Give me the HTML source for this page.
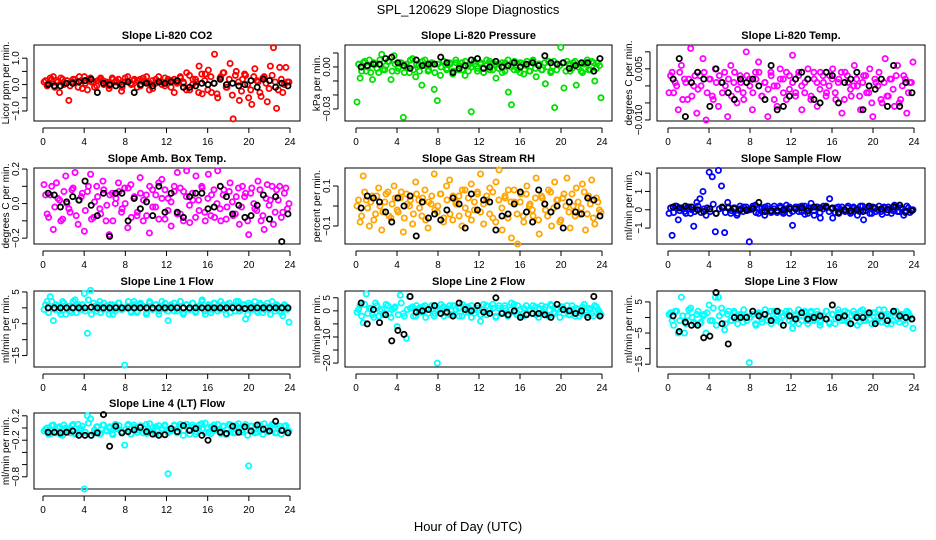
<!DOCTYPE html>
<html><head><meta charset="utf-8"><style>
html,body{margin:0;padding:0;background:#fff;}
svg{display:block;font-family:"Liberation Sans",sans-serif;}
</style></head><body>
<svg id="chart" width="936" height="540" viewBox="0 0 936 540">
<text x="468" y="14" text-anchor="middle" font-size="13">SPL_120629  Slope Diagnostics</text>
<text x="468" y="531" text-anchor="middle" font-size="13">Hour of Day (UTC)</text>
</svg>
<script>
// ---- data ----
const xTicks = [0,4,8,12,16,20,24];
const c1 = [0.1,-0.05,0.25,0.3,0.15,-0.3,0.2,0.05,-0.6,0.1,0.2,-0.1,0.15,0.3,-0.2,0.25,0.1,-0.05,0.2,0.15,0.05,-0.15,0.25,0.1,0.2,-0.25,0.1,0.3,0.05,0.15,-0.1,0.2,0.25,0.1,-0.2,0.15,0.05,0.3,0.1,-0.05,0.2,0.15,-0.3,0.1,0.25,0.05,0.45,-0.2,0.2,0.1,0.7,-0.35,0.4,0.55,-0.3,1.15,-0.5,0.3,0.45,-0.1,0.8,-1.3,0.5,-0.6,0.2,0.35,-0.5,-0.75,0.6,0.1,-0.45,0.3,-0.65,0.7,1.4,-0.9,0.65,-0.3,0.65,0.1];
const d1 = [0.15,0.05,0.2,-0.1,0.1,0.25,0.0,0.15,-0.05,0.2,0.1,0.3,-0.15,0.05,0.2,0.1,-0.1,0.15,0.25,0.0,0.1,-0.05,0.2,0.15,0.05,-0.1,0.25,0.1,0.0,0.2,0.15,-0.05,0.1,0.3,0.05,-0.15,0.2,0.1,0.0,0.25,0.15,-0.1,0.2,0.05,0.3,0.1,-0.2,0.35,0.0,0.2,-0.3,0.4,0.15,-0.2,0.3,0.05,-0.35,0.25,0.45,-0.1,0.2,-0.4,0.35,0.1,-0.25,0.4,0.0,-0.2,0.3,0.15,-0.3,0.25,0.05,-0.15,0.35,0.1,-0.2,0.2,0.0,0.1];
const k1 = [0.0,-0.05,-0.05,0.05,0.05,0.1,0.15,0.2,-0.3,0.05,0.0,-0.05,0.0,0.1,-0.3,0.0,0.05,-0.05,0.1,0.05,0.1,0.15,-0.1,-0.1,-0.05,0.05,0.0,0.05,0.2,0.0,0.05,-0.05,0.0,0.15,-0.1,0.2,0.15,-0.1,0.05,-0.05];
const c2 = [-0.025,-0.008,0.003,-0.003,0.005,-0.009,0.002,-0.004,0.009,-0.002,0.004,-0.009,0.008,-0.003,0.003,-0.036,0.002,-0.004,0.006,-0.007,0.001,-0.013,0.005,-0.003,0.002,-0.016,-0.024,-0.006,0.004,-0.002,0.003,-0.005,0.005,-0.002,0.003,-0.006,0.001,-0.032,0.004,-0.003,0.002,-0.004,0.005,-0.002,0.003,-0.008,0.002,-0.004,0.003,-0.018,-0.027,0.004,-0.002,0.003,-0.005,0.004,-0.003,0.005,-0.007,0.002,-0.002,-0.012,0.004,-0.003,-0.029,0.002,0.014,-0.015,0.004,-0.003,0.003,-0.013,0.002,-0.004,0.003,-0.002,0.004,-0.010,0.003,-0.022];
const d2 = [0.002,-0.003,0.004,0.0,-0.004,0.003,-0.001,0.005,-0.002,0.001,0.004,-0.003,0.002,-0.001,0.003,-0.004,0.0,0.005,-0.002,0.002,-0.003,0.004,0.001,-0.002,0.003,-0.004,0.002,0.0,0.004,-0.001,0.002,-0.003,0.003,0.001,-0.002,0.004,-0.003,0.0,0.002,-0.001,0.003,-0.004,0.001,0.004,-0.002,0.002,-0.001,0.003,-0.003,0.005,0.0,-0.002,0.003,-0.004,0.002,0.001,-0.003,0.004,-0.001,0.002,-0.002,0.003,0.0,-0.004,0.004,-0.002,0.001,0.003,-0.003,0.002,-0.001,0.004,0.0,-0.003,0.002,0.005,-0.002,0.003,-0.001,0.001];
const k2 = [0.0,0.001,0.002,0.002,0.006,0.007,0.003,0.001,-0.001,0.005,0.001,0.002,0.002,0.007,0.003,-0.004,-0.001,0.001,0.005,0.006,-0.001,0.0,0.004,0.0,0.001,0.003,0.0,0.002,0.003,0.001,0.008,0.003,0.002,0.003,-0.001,0.001,0.003,0.003,-0.003,0.006];
const c3 = [-0.002,0.004,0.001,-0.007,0.006,0.002,-0.004,0.011,0.0,-0.008,0.003,0.008,-0.010,0.002,-0.003,0.005,-0.006,0.001,0.004,-0.009,0.006,0.001,-0.005,0.003,-0.002,0.010,0.002,-0.007,0.004,0.007,-0.003,0.001,-0.009,0.004,0.0,-0.006,0.005,0.002,-0.004,0.003,0.009,-0.002,0.004,-0.007,0.001,0.005,-0.003,0.002,-0.006,0.004,0.001,-0.002,0.003,0.005,-0.004,0.002,-0.008,0.004,0.001,-0.003,0.006,0.0,-0.007,0.003,-0.002,0.005,-0.009,0.001,0.004,-0.005,0.008,-0.003,0.002,-0.006,0.006,-0.004,0.003,-0.008,0.001,0.007];
const d3 = [0.003,-0.002,0.0,0.004,-0.004,0.001,0.002,-0.003,0.003,-0.001,0.0,0.004,-0.002,0.002,-0.004,0.001,0.003,-0.002,0.0,0.002,-0.003,0.004,-0.001,0.001,-0.004,0.003,0.0,-0.002,0.002,0.004,-0.003,0.001,-0.001,0.003,-0.004,0.0,0.002,-0.002,0.004,-0.001,0.001,-0.003,0.003,0.0,-0.002,0.002,-0.004,0.004,0.001,-0.001,0.003,-0.003,0.0,0.002,-0.002,0.001,0.004,-0.004,0.003,-0.001,0.0,0.002,-0.003,0.001,0.003,-0.002,-0.005,0.002,0.0,-0.004,0.001,-0.003,0.002,-0.001,0.003,-0.005,0.0,0.002,-0.002,0.001];
const k3 = [0.002,0.008,-0.009,0.001,0.004,0.002,-0.006,0.005,0.001,-0.002,-0.004,0.002,0.001,0.002,0.0,-0.004,0.006,-0.007,-0.006,-0.003,0.002,0.004,0.002,-0.004,-0.005,0.004,0.003,-0.005,0.001,0.002,0.004,-0.007,0.0,-0.001,0.002,-0.006,0.006,-0.006,0.001,-0.002];
const c4 = [0.11,-0.06,0.05,-0.15,0.12,0.02,-0.09,0.16,-0.03,0.08,0.18,-0.12,0.04,-0.16,0.07,0.17,-0.08,0.1,-0.03,0.13,-0.1,-0.18,0.06,0.0,0.12,-0.05,0.09,-0.14,0.11,0.03,-0.07,0.15,-0.1,0.05,-0.17,0.08,-0.02,0.12,0.14,-0.09,0.03,-0.13,0.1,0.18,-0.06,0.07,0.19,-0.11,0.02,0.16,-0.04,0.09,-0.1,0.17,0.05,-0.08,0.19,-0.1,0.08,-0.02,0.12,-0.07,0.04,-0.12,0.1,0.06,-0.18,0.09,-0.03,0.13,-0.1,-0.15,0.11,0.02,-0.12,0.08,0.1,-0.05,0.09,0.0];
const d4 = [0.05,-0.08,0.1,-0.02,0.03,-0.1,0.07,0.0,-0.05,0.09,-0.07,0.02,0.06,-0.04,0.1,-0.09,0.01,0.04,-0.06,0.08,-0.01,0.05,-0.1,0.03,0.07,-0.03,0.0,0.09,-0.08,0.04,-0.05,0.06,0.02,-0.07,0.1,-0.02,0.05,-0.09,0.03,0.08,-0.04,0.01,0.07,-0.06,0.09,-0.1,0.04,-0.01,0.06,-0.08,0.02,0.1,-0.05,0.03,-0.07,0.08,0.0,-0.03,0.05,-0.09,0.07,0.01,-0.06,0.09,-0.02,0.04,-0.1,0.06,0.0,-0.04,0.08,-0.07,0.03,-0.01,0.1,-0.05,0.02,-0.08,0.06,-0.03];
const k4 = [0.06,0.05,-0.02,0.01,0.04,0.02,0.13,-0.01,-0.07,0.06,-0.19,0.06,0.06,-0.1,0.03,-0.03,0.01,-0.07,0.1,-0.05,0.06,-0.05,-0.08,0.04,0.06,0.06,-0.03,-0.02,0.1,0.04,-0.06,-0.01,-0.08,-0.07,-0.01,0.05,-0.09,0.04,-0.22,-0.06];
const c5 = [0.0,-0.08,0.15,0.03,-0.1,0.05,-0.04,0.09,-0.12,0.02,0.07,-0.06,0.1,-0.02,0.04,-0.13,0.06,0.0,-0.09,0.12,0.03,-0.05,0.08,-0.11,0.01,0.16,-0.03,0.06,-0.08,0.1,0.13,-0.07,0.02,0.05,-0.1,0.08,-0.04,0.11,-0.02,0.07,0.16,-0.09,0.03,0.09,-0.06,0.12,0.18,-0.12,0.04,0.08,-0.16,0.02,-0.19,0.06,-0.08,0.1,0.01,-0.05,0.14,-0.14,0.04,-0.02,0.08,-0.1,0.12,0.03,-0.07,0.06,0.14,-0.11,0.0,0.09,-0.04,0.11,-0.12,0.05,0.13,-0.09,0.02,-0.03];
const d5 = [0.03,-0.05,0.07,-0.01,0.02,-0.07,0.05,0.0,-0.03,0.06,-0.05,0.01,0.04,-0.03,0.07,-0.06,0.01,0.03,-0.04,0.06,-0.01,0.04,-0.07,0.02,0.05,-0.02,0.0,0.06,-0.06,0.03,-0.04,0.05,0.01,-0.05,0.08,-0.01,0.04,-0.07,0.02,0.06,-0.03,0.01,0.05,-0.04,0.07,-0.08,0.03,-0.01,0.05,-0.06,0.02,0.08,-0.04,0.02,-0.05,0.06,0.0,-0.02,0.04,-0.07,0.05,0.01,-0.05,0.07,-0.01,0.03,-0.08,0.04,0.0,-0.03,0.06,-0.05,0.02,-0.01,0.07,-0.04,0.01,-0.06,0.04,-0.02];
const k5 = [-0.01,0.05,0.04,0.02,-0.03,-0.08,0.04,0.0,0.05,-0.15,0.02,-0.06,-0.04,-0.07,-0.02,0.04,0.01,-0.11,0.06,-0.02,0.03,0.02,-0.12,-0.05,-0.04,0.01,0.07,-0.03,-0.08,0.08,0.01,-0.03,0.0,-0.11,0.02,-0.03,-0.04,0.04,0.03,-0.05];
const c6 = [-0.2,-1.4,0.2,-0.55,0.1,-0.1,0.15,-0.2,-0.9,0.4,0.6,1.0,-0.3,2.05,1.8,-1.2,2.15,1.3,-1.25,0.4,-0.2,0.1,-0.3,0.2,-0.1,0.15,-1.75,0.1,0.25,-0.2,0.1,-0.3,0.2,-0.1,0.05,-0.15,0.2,-0.1,0.25,-0.2,-0.85,0.15,-0.1,0.2,-0.25,0.1,0.35,-0.3,0.15,-0.45,0.2,0.1,0.6,-0.45,0.1,-0.2,0.15,-0.1,0.2,-0.15,0.1,-0.3,0.2,-0.55,0.1,-0.2,0.15,-0.1,0.2,-0.25,0.1,0.15,-0.2,0.25,-0.1,0.1,-0.3,0.2,-0.15,0.0];
const d6 = [0.1,-0.15,0.2,-0.05,0.05,-0.2,0.15,0.0,-0.1,0.2,-0.15,0.05,0.1,-0.1,0.3,-0.2,0.05,0.1,-0.15,0.15,-0.05,0.1,-0.2,0.05,0.15,-0.05,0.0,0.2,-0.15,0.1,-0.1,0.15,0.05,-0.15,0.2,-0.05,0.1,-0.2,0.05,0.15,-0.1,0.05,0.15,-0.1,0.2,-0.2,0.1,-0.05,0.15,-0.15,0.05,0.2,-0.1,0.05,-0.15,0.15,0.0,-0.05,0.1,-0.2,0.15,0.05,-0.1,0.2,-0.05,0.1,-0.2,0.1,0.0,-0.1,0.15,-0.15,0.05,-0.05,0.2,-0.1,0.05,-0.15,0.1,-0.05];
const k6 = [0.15,0.1,0.2,0.15,0.0,-0.1,0.05,-0.2,0.15,0.1,0.05,0.0,0.0,0.05,0.4,-0.1,-0.05,-0.05,0.0,0.05,0.05,0.1,-0.05,0.15,0.1,0.15,0.1,-0.15,0.0,-0.05,0.0,-0.1,0.2,0.1,0.05,0.0,0.15,0.25,-0.1,-0.05];
const c7 = [-0.5,2,3.5,-4,1,-1,2,-2,0.5,-1.5,2.5,1,-0.5,4.5,-8,5.5,1.5,-1,2,-0.5,0.5,-2,1,-1,1.5,-0.5,-18,0.5,-1,2,-1.5,1,0.5,-2,1.5,-0.5,1,-1,2,-0.5,-4,1,-1,0.5,2,-1.5,1,-0.5,1.5,-1,0.5,2.5,-2,1,-0.5,1.5,-1,2,-0.5,1,-1.5,0.5,2,-1,1,-3.5,1.5,-0.5,2,-1.5,1,-0.5,1.5,-2,0.5,1,-1,-2.5,0.5,-4.5];
const d7 = [1,-1.5,2,-0.5,0.5,-2,1.5,0,-1,2,-1.5,0.5,1,-1,2.5,-2,0.5,1,-1.5,1.5,-0.5,1,-2,0.5,1.5,-0.5,0,2,-1.5,1,-1,1.5,0.5,-1.5,2,-0.5,1,-2,0.5,1.5,-1,0.5,1.5,-1,2,-2,1,-0.5,1.5,-1.5,0.5,2,-1,0.5,-1.5,1.5,0,-0.5,1,-2,1.5,0.5,-1,2,-0.5,1,-2,1,0,-1,1.5,-1.5,0.5,-0.5,2,-1,0.5,-1.5,1,-0.5];
const k7 = [0,0,0,0,0,0,0,0.2,0,0,0,0,0,0,0,0,0,0,0,0,0,0,0,0,0,0,0,0,0,0,0,0,-0.2,0,0,0,0,0,0,0];
const c8 = [-0.5,2,-4.5,6.5,1,-1.5,3,-2,0.5,-1,2,-2.5,1,-6,6,-1,-10.5,5.5,1.5,-2,1,-0.5,2,-1,0.5,-2,-20,0.5,1.5,-1,2,-1.5,0.5,1,-2,1.5,-0.5,2,-1,1,-4,2.5,-1.5,0.5,1,-2,2,-0.5,1,-1.5,3,-0.5,2,-2,1,-1,0.5,2,-1.5,1,-0.5,1.5,-2,2,-1,0.5,1.5,-1,2,-1.5,0.5,1,-2,1.5,-0.5,1,-1,2,0.5,-1.5];
const d8 = [0.5,-2,2.5,-1,1,-2.5,2,0,-1.5,2.5,-1,0.5,1.5,-1.5,3,-2,0.5,1,-2,2,-0.5,1.5,-2.5,0.5,2,-1,0,2.5,-2,1,-1.5,2,0.5,-2,2.5,-0.5,1.5,-2.5,0.5,2,-1.5,0.5,2,-1,2.5,-2.5,1,-1,2,-2,0.5,2.5,-1.5,0.5,-2,2,0,-1,1.5,-2.5,2,0.5,-1.5,2.5,-0.5,1,-2.5,1.5,0,-1.5,2,-2,0.5,-1,2.5,-1.5,0.5,-2,1.5,-0.5];
const k8 = [3,-5,0.5,-4.5,-1.5,-11.5,-7.5,-9,5.5,-0.5,0,0.5,2,-1,-0.5,-2,3,0.5,0,2,-0.5,-1,5,-1,-1.5,0,-2.5,-1.5,-1,-1,-1.5,-2.5,2.5,0.5,0,-1,0,-2.5,5.5,-2];
const c9 = [1,-1,2,-5,6.5,-5,0.5,3,-1.5,1,-2,0.5,-5,4,-1,6.5,6.5,3,-4,1,-1,2,-0.5,1,-1.5,0.5,-14.5,1,-2,1.5,-0.5,1,-1,2,-0.5,1,-1.5,0.5,2,-1,-3.5,1,-2,0.5,1.5,-1,2,-0.5,1,-1.5,0.5,2,-2,1,-0.5,1.5,-1,2,-1.5,0.5,1,-2.5,2,-1,1,-0.5,1.5,-1,2.5,-1.5,0.5,1,-2,1.5,-0.5,1,-1,2,0.5,-3.5];
const d9 = [1.5,-2.5,2,-1,0.5,-2,2.5,0,-2,2,-1.5,1,1.5,-1,3,-2.5,0.5,1.5,-2,2,-1,1.5,-2,0.5,2.5,-1,0,2,-2.5,1,-1.5,2.5,0.5,-2,2,-1,1.5,-2.5,1,2,-1.5,0.5,2.5,-1,2,-2,1.5,-1,2,-2.5,0.5,2,-1.5,1,-2,2.5,0,-1,1.5,-2,2,0.5,-1.5,2.5,-1,1,-2,1.5,0,-1.5,2.5,-2,0.5,-1,2,-1.5,1,-2,1.5,-0.5];
const k9 = [0.5,-4.5,-1.5,-2.5,-2.5,-6.5,-6,8,-2,-8.5,0,0,0,2,0.5,1,-1,2,-2.5,0.5,-0.5,1.5,-0.5,0,0.5,-0.5,4,0,0.5,-2,0,0,1.5,-2,0.5,-1,2,0.5,0,-0.5];
const c10 = [-0.05,0.0,-0.1,0.05,-0.08,0.02,-0.12,0.0,-0.05,0.04,-0.1,0.06,-0.02,-1.0,0.2,0.15,-0.08,0.02,-0.1,0.05,-0.04,0.0,-0.09,0.06,-0.02,-0.07,-0.28,0.04,-0.1,0.05,-0.03,0.02,-0.08,0.06,-0.05,0.0,-0.1,0.04,-0.03,0.03,-0.75,-0.05,0.05,-0.08,0.02,-0.04,0.06,-0.1,0.01,-0.06,0.05,-0.02,0.08,-0.07,0.02,-0.04,0.06,-0.09,0.03,-0.02,0.05,-0.08,0.04,-0.01,-0.07,0.06,-0.62,0.03,-0.08,0.05,-0.03,0.07,-0.06,0.02,0.05,-0.08,0.03,-0.04,0.04,-0.05];
const d10 = [-0.02,-0.1,0.04,-0.06,0.0,-0.11,0.05,-0.04,-0.08,0.06,-0.1,-0.01,0.03,-0.07,0.08,-0.12,-0.03,0.02,-0.09,0.05,-0.05,0.02,-0.11,-0.01,0.04,-0.06,-0.03,0.06,-0.1,0.01,-0.07,0.04,-0.02,-0.09,0.07,-0.05,0.02,-0.11,-0.01,0.05,-0.08,-0.02,0.04,-0.07,0.06,-0.12,0.02,-0.04,0.05,-0.1,-0.01,0.07,-0.08,0.0,-0.09,0.05,-0.03,-0.05,0.03,-0.11,0.06,-0.02,-0.08,0.07,-0.04,0.01,-0.12,0.03,-0.03,-0.07,0.05,-0.1,0.0,-0.05,0.06,-0.08,-0.01,-0.1,0.03,-0.05];
const k10 = [-0.07,-0.07,-0.08,-0.07,-0.05,-0.12,-0.12,-0.12,-0.08,0.22,-0.3,0.03,-0.08,-0.06,-0.03,0.01,-0.06,-0.1,-0.12,-0.11,-0.01,-0.06,0.04,-0.04,-0.01,-0.12,-0.2,-0.01,-0.07,-0.09,0.03,-0.07,0.02,-0.05,0.05,-0.02,-0.05,0.11,-0.04,-0.08];
const titles = ["Slope Li-820 CO2","Slope Li-820 Pressure","Slope Li-820 Temp.","Slope Amb. Box Temp.","Slope Gas Stream RH","Slope Sample Flow","Slope Line 1 Flow","Slope Line 2 Flow","Slope Line 3 Flow","Slope Line 4 (LT) Flow"];
const yTitles = ["Licor ppm per min.","kPa per min.","degrees C per min.","degrees C per min.","percent per min.","ml/min per min.","ml/min per min.","ml/min per min.","ml/min per min.","ml/min per min."];
const yTicks = [[-1,-0.5,0,0.5,1],[0.01,0,-0.01,-0.02,-0.03],[0.01,0.005,0,-0.005,-0.01],[-0.2,-0.1,0,0.1,0.2],[-0.1,0,0.1],[-1,0,1,2],[5,0,-5,-10,-15],[5,0,-5,-10,-15,-20],[5,0,-5,-10,-15],[0.2,0,-0.2,-0.4,-0.6,-0.8]];
const yTickLabels = [["-1.0","","0.0","","1.0"],["","0.00","","","-0.03"],["","0.005","","","-0.010"],["-0.2","","0.0","","0.2"],["-0.1","","0.1"],["-1","0","1","2"],["5","","-5","","-15"],["5","0","","-10","","-20"],["5","","-5","","-15"],["0.2","","-0.2","","","-0.8"]];
const yDomains = [[-1.38,1.5],[-0.0386,0.0157],[-0.0103,0.012],[-0.234,0.206],[-0.19,0.19],[-1.87,2.28],[-18.6,5.3],[-21.5,7.6],[-15.9,8.5],[-1.0,0.246]];
const colorSeries = [c1,c2,c3,c4,c5,c6,c7,c8,c9,c10];
const coreSeries = [d1,d2,d3,d4,d5,d6,d7,d8,d9,d10];
const blackSeries = [k1,k2,k3,k4,k5,k6,k7,k8,k9,k10];
const colors = ["#ff0000","#00e000","#ff00ff","#ff00ff","#ffa500","#0000ff","#00ffff","#00ffff","#00ffff","#00ffff"];

// ---- layout ----
const NS = "http://www.w3.org/2000/svg";
const svg = document.getElementById("chart");
const colX = [[34,300,43,290],[345,612,356,602],[657,925,668,914]];
const rowTop = [45,168,291,413];
const ph = 76;
function mk(tag, attrs, parent){const e=document.createElementNS(NS,tag);for(const k in attrs)e.setAttribute(k,attrs[k]);(parent||svg).appendChild(e);return e;}

for(let p=0;p<10;p++){
  const col=colX[p%3], top=rowTop[Math.floor(p/3)], bot=top+ph;
  const g=mk("g",{});
  
  
  const xs=h=>col[2]+(h/24)*(col[3]-col[2]);
  const dom=yDomains[p];
  const ys=v=>bot-(v-dom[0])/(dom[1]-dom[0])*ph;
  const t=mk("text",{x:(col[0]+col[1])/2,y:top-6,"text-anchor":"middle","font-size":"11","font-weight":"bold"},g);
  t.textContent=titles[p];
  
  
  const box=mk("rect",{x:col[0],y:top,width:col[1]-col[0],height:ph,fill:"none",stroke:"#000","stroke-width":"1"},g);
  
  
  const xa=mk("g",{},g);
  
  
  mk("line",{x1:xs(xTicks[0]),x2:xs(xTicks[xTicks.length-1]),y1:bot+7,y2:bot+7,stroke:"#000"},xa);
  xTicks.forEach(v=>{
    mk("line",{x1:xs(v),x2:xs(v),y1:bot+7,y2:bot+12,stroke:"#000"},xa);
    const l=mk("text",{x:xs(v),y:bot+24,"text-anchor":"middle","font-size":"10"},xa);
    l.textContent=v;
    
    
  });
  const ya=mk("g",{},g);
  
  
  const yt=yTicks[p];
  mk("line",{x1:col[0]-7,x2:col[0]-7,y1:ys(Math.max(...yt)),y2:ys(Math.min(...yt)),stroke:"#000"},ya);
  yt.forEach((v,i)=>{
    mk("line",{x1:col[0]-12,x2:col[0]-7,y1:ys(v),y2:ys(v),stroke:"#000"},ya);
    const s=yTickLabels[p][i];
    if(s){
      const l=mk("text",{x:col[0]-15,y:ys(v),"text-anchor":"middle","font-size":"10",transform:`rotate(-90 ${col[0]-15} ${ys(v)})`},ya);
      l.textContent=s.replace("-","\u2212");
      
      
    }
  });
  const yl=mk("text",{x:col[0]-25,y:(top+bot)/2,"text-anchor":"middle","font-size":"10",transform:`rotate(-90 ${col[0]-25} ${(top+bot)/2})`},g);
  yl.textContent=yTitles[p];
  
  
  const cg=mk("g",{fill:"none",stroke:colors[p],"stroke-width":"1.8"},g);
  
  
  const cs=colorSeries[p];
  cs.forEach((v,i)=>{
    const h=0.1+i*23.8/(cs.length-1);
    const c=mk("circle",{cx:xs(h),cy:ys(v),r:2.6},cg);
    
    
  });
  const ds=coreSeries[p];
  ds.forEach((v,i)=>{
    const h=0.1+(i+0.5)*23.8/ds.length;
    const c=mk("circle",{cx:xs(h),cy:ys(v),r:2.6},cg);
    
    
  });
  const ks=blackSeries[p];
  const kg=mk("g",{fill:"none",stroke:"#000","stroke-width":"1.8"},g);
  
  
  ks.forEach((v,i)=>{
    const h=0.5+i*23.3/(ks.length-1);
    const c=mk("circle",{cx:xs(h),cy:ys(v),r:2.6},kg);
    
    
  });
}
</script>
</body></html>
